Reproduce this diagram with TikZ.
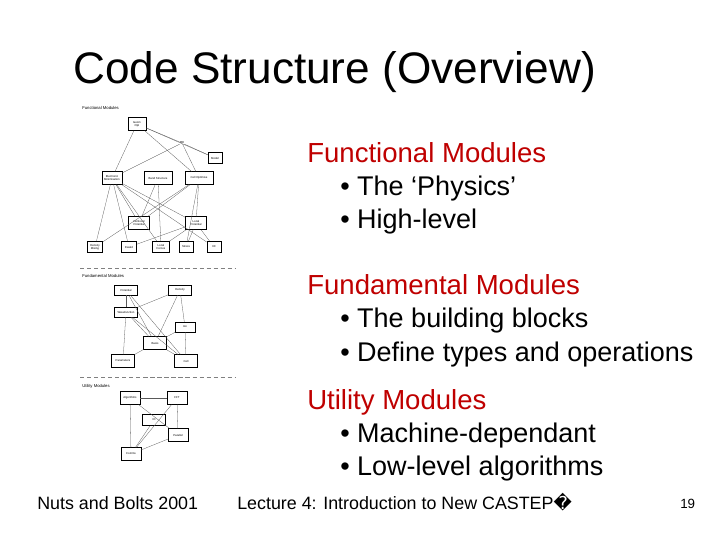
\documentclass[tikz,border=0pt]{standalone}
\usepackage{fontspec}
\setmainfont{Liberation Sans}
\newfontfamily\djfont{DejaVu Sans}
\begin{document}
\begin{tikzpicture}[x=0.025cm,y=-0.025cm,
 m/.style={draw,thin,inner sep=0pt,font=\fontsize{2}{2.4}\selectfont,align=center,fill=white},
 e/.style={gray!70!black,very thin},
 sec/.style={font=\fontsize{3}{3}\selectfont,anchor=west,inner sep=0pt},
 hd/.style={anchor=base west,inner sep=0pt,font=\fontsize{19.6}{22}\selectfont,text=red!75!black},
 bl/.style={anchor=base west,inner sep=0pt,font=\fontsize{19.2}{22}\selectfont},
 ft/.style={anchor=base west,inner sep=0pt,font=\fontsize{12.7}{14}\selectfont}]
\useasboundingbox (0,0) rectangle (720,540);
\node[anchor=west,inner sep=0pt,font=\fontsize{31.4}{35}\selectfont] (title) at (73,72) {Code Structure (Overview)};
% functional
\node[sec] (f0) at (82,108) {Functional Modules};
\node[m,minimum width=13pt,minimum height=9pt] (go) at (137,124) {Geom\\Opt};
\node[m,draw=none,fill=none] (md) at (182,143) {MD};
\node[m,minimum width=10pt,minimum height=8pt] (mod) at (215,158) {Model};
\node[m,minimum width=14pt,minimum height=9pt] (el) at (112,178) {Electronic\\Minimisation};
\node[m,minimum width=20pt,minimum height=9pt] (bs) at (158,178) {Band Structure};
\node[m,minimum width=20pt,minimum height=9pt] (co) at (199,178) {Cell Optimise};
\node[m,minimum width=15pt,minimum height=9pt] (nl) at (139,223) {Nonlocal\\Potential};
\node[m,minimum width=15pt,minimum height=9pt] (lp) at (196,223) {Local\\Potential};
\node[m,minimum width=11pt,minimum height=8pt] (dm) at (95,247) {Density\\Mixing};
\node[m,minimum width=11pt,minimum height=8pt] (b2) at (129,247) {Ewald};
\node[m,minimum width=12pt,minimum height=8pt] (b3) at (161,247) {Local\\Forces};
\node[m,minimum width=10pt,minimum height=8pt] (b4) at (186,247) {Stress};
\node[m,minimum width=10pt,minimum height=8pt] (b5) at (214,247) {XC};
\foreach \a/\b in {go/md,go/mod,go/el,go/co,md/mod,md/el,md/co,el/dm,el/nl,el/lp,el/b2,el/b3,bs/nl,bs/b3,co/nl,co/lp,co/dm,co/b4,lp/b2,lp/b4,lp/b5,lp/b3,el/b5}
  \draw[e] (\a) -- (\b);
\draw[densely dashed,very thin,gray] (80,268) -- (235,268);
% fundamental
\node[sec] (f1) at (82,276) {Fundamental Modules};
\node[m,minimum width=16pt,minimum height=7pt] (pot) at (126,290) {Potential};
\node[m,minimum width=16pt,minimum height=7pt] (den) at (180,290) {Density};
\node[m,minimum width=16pt,minimum height=7pt] (wf) at (126,312) {Wavefunction};
\node[m,minimum width=14pt,minimum height=7pt] (ion) at (185,327) {Ion};
\node[m,minimum width=16pt,minimum height=9pt] (bas) at (155,343) {Basis};
\node[m,minimum width=16pt,minimum height=9pt] (par) at (123,361) {Parameters};
\node[m,minimum width=16pt,minimum height=9pt] (cell) at (186,361) {Cell};
\foreach \a/\b in {pot/wf,pot/bas,pot/cell,den/wf,den/bas,den/ion,wf/par,wf/bas,wf/cell,ion/bas,ion/cell,bas/par,bas/cell}
  \draw[e] (\a) -- (\b);
\draw[densely dashed,very thin,gray] (80,377) -- (235,377);
% utility
\node[sec] (f2) at (82,386) {Utility Modules};
\node[m,minimum width=14pt,minimum height=9pt] (alg) at (130,398) {Algorithms};
\node[m,minimum width=14pt,minimum height=9pt] (fft) at (177,398) {FFT};
\node[m,minimum width=16pt,minimum height=8pt] (io) at (154,420) {IO};
\node[m,minimum width=14pt,minimum height=9pt] (par2) at (178,435) {Parallel};
\node[m,minimum width=14pt,minimum height=9pt] (com) at (131,454) {Comms};
\foreach \a/\b in {alg/com,alg/fft,alg/par2,fft/com,fft/par2,io/com,par2/com}
  \draw[e] (\a) -- (\b);
% text
\node[hd] (h1) at (307,162) {Functional Modules};
\node[bl] (t1) at (340,195) {• The ‘Physics’};
\node[bl] (t2) at (340,228) {• High-level};
\node[hd] (h2) at (307,294) {Fundamental Modules};
\node[bl] (t3) at (340,327) {• The building blocks};
\node[bl] (t4) at (340,361) {• Define types and operations};
\node[hd] (h3) at (307,409) {Utility Modules};
\node[bl] (t5) at (340,442) {• Machine-dependant};
\node[bl] (t6) at (340,475) {• Low-level algorithms};
\node[ft] (n1) at (37,509) {Nuts and Bolts 2001};
\node[ft] (n2) at (237,509) {Lecture 4: Introduction to New CASTEP{\djfont �}};
\node[ft,font=\fontsize{9.5}{11}\selectfont] (n3) at (680,508) {19};
\end{tikzpicture}
\end{document}
